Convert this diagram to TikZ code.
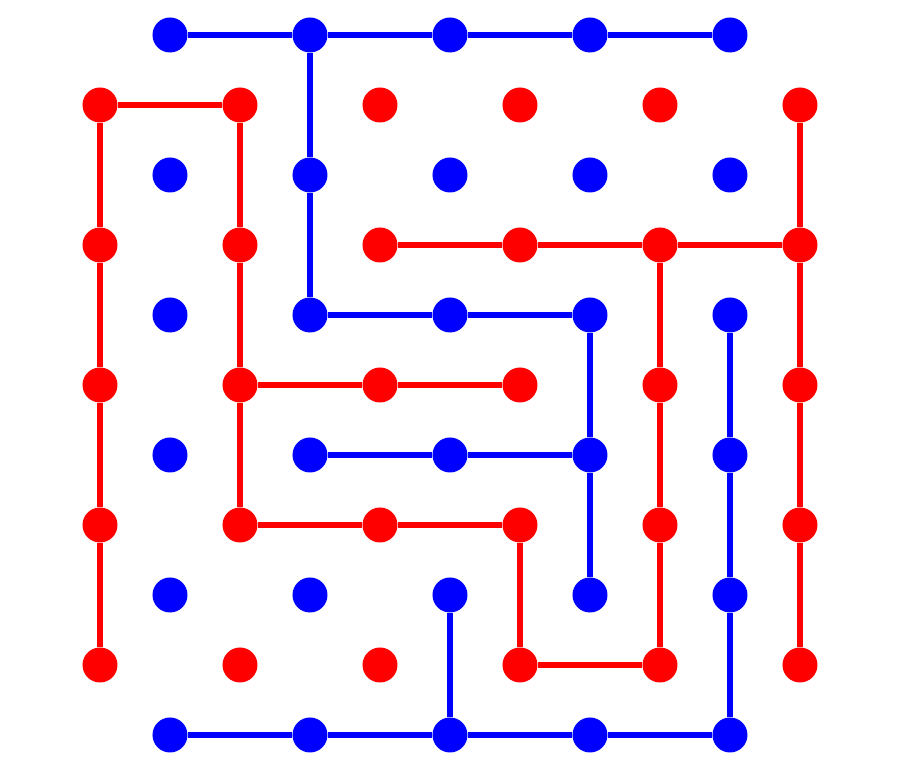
\documentclass[tikz,border=0pt]{standalone}
\usepackage{tikz}
\usetikzlibrary{positioning}

\definecolor{bluepl}{RGB}{0,0,255}
\definecolor{redpl}{RGB}{255,0,0}

\begin{document}
\begin{tikzpicture}[
    bdot/.style={circle, fill=bluepl, inner sep=0pt, minimum size=0.25cm},
    rdot/.style={circle, fill=redpl, inner sep=0pt, minimum size=0.25cm},
    bline/.style={draw=bluepl, line width=1.1pt},
    rline/.style={draw=redpl, line width=1.2pt}
]
\useasboundingbox[fill=white] (-1.2143,-0.3214) rectangle (5.2143,5.25);

% blue points (column j, row k)
\foreach \j in {0,...,4}
  \foreach \k in {0,...,5}
    \node[bdot] (b-\j-\k) at (\j,\k) {};

% red points (column i, row m)
\foreach \i in {0,...,5}
  \foreach \m in {0,...,4}
    \node[rdot] (r-\i-\m) at (\i-0.5,\m+0.5) {};

% blue bridges
\foreach \a/\b in {b-0-5/b-1-5, b-1-5/b-2-5, b-2-5/b-3-5, b-3-5/b-4-5,
    b-1-5/b-1-4, b-1-4/b-1-3,
    b-1-3/b-2-3, b-2-3/b-3-3,
    b-3-3/b-3-2, b-3-2/b-3-1,
    b-1-2/b-2-2, b-2-2/b-3-2,
    b-4-3/b-4-2, b-4-2/b-4-1, b-4-1/b-4-0,
    b-2-1/b-2-0,
    b-0-0/b-1-0, b-1-0/b-2-0, b-2-0/b-3-0, b-3-0/b-4-0}
  \draw[bline] (\a) -- (\b);

% red bridges
\foreach \a/\b in {r-0-4/r-1-4,
    r-0-4/r-0-3, r-0-3/r-0-2, r-0-2/r-0-1, r-0-1/r-0-0,
    r-1-4/r-1-3, r-1-3/r-1-2, r-1-2/r-1-1,
    r-1-2/r-2-2, r-2-2/r-3-2,
    r-1-1/r-2-1, r-2-1/r-3-1,
    r-3-1/r-3-0, r-3-0/r-4-0,
    r-4-3/r-4-2, r-4-2/r-4-1, r-4-1/r-4-0,
    r-2-3/r-3-3, r-3-3/r-4-3, r-4-3/r-5-3,
    r-5-4/r-5-3, r-5-3/r-5-2, r-5-2/r-5-1, r-5-1/r-5-0}
  \draw[rline] (\a) -- (\b);
\end{tikzpicture}
\end{document}
